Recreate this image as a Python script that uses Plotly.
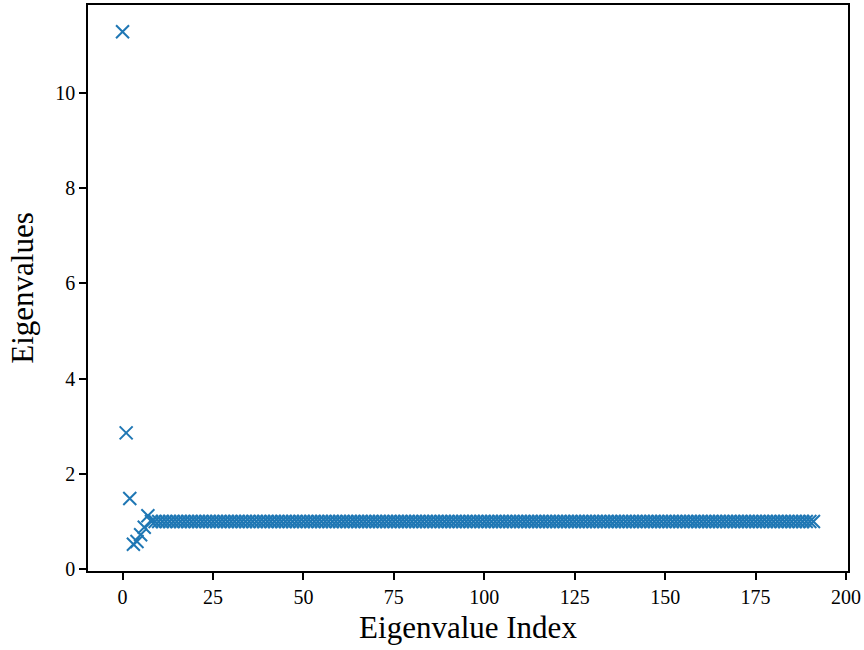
import plotly.graph_objects as go

# Leading eigenvalues
leading_values = [11.28, 2.86, 1.48, 0.52, 0.58, 0.72, 0.88, 1.12]
# Remaining eigenvalues (indices 8..191), all about 1.0
tail_values = [
    1.0, 1.0, 1.0, 1.0, 1.0, 1.0, 1.0, 1.0, 1.0, 1.0, 1.0, 1.0, 1.0, 1.0, 1.0, 1.0,
    1.0, 1.0, 1.0, 1.0, 1.0, 1.0, 1.0, 1.0, 1.0, 1.0, 1.0, 1.0, 1.0, 1.0, 1.0, 1.0,
    1.0, 1.0, 1.0, 1.0, 1.0, 1.0, 1.0, 1.0, 1.0, 1.0, 1.0, 1.0, 1.0, 1.0, 1.0, 1.0,
    1.0, 1.0, 1.0, 1.0, 1.0, 1.0, 1.0, 1.0, 1.0, 1.0, 1.0, 1.0, 1.0, 1.0, 1.0, 1.0,
    1.0, 1.0, 1.0, 1.0, 1.0, 1.0, 1.0, 1.0, 1.0, 1.0, 1.0, 1.0, 1.0, 1.0, 1.0, 1.0,
    1.0, 1.0, 1.0, 1.0, 1.0, 1.0, 1.0, 1.0, 1.0, 1.0, 1.0, 1.0, 1.0, 1.0, 1.0, 1.0,
    1.0, 1.0, 1.0, 1.0, 1.0, 1.0, 1.0, 1.0, 1.0, 1.0, 1.0, 1.0, 1.0, 1.0, 1.0, 1.0,
    1.0, 1.0, 1.0, 1.0, 1.0, 1.0, 1.0, 1.0, 1.0, 1.0, 1.0, 1.0, 1.0, 1.0, 1.0, 1.0,
    1.0, 1.0, 1.0, 1.0, 1.0, 1.0, 1.0, 1.0, 1.0, 1.0, 1.0, 1.0, 1.0, 1.0, 1.0, 1.0,
    1.0, 1.0, 1.0, 1.0, 1.0, 1.0, 1.0, 1.0, 1.0, 1.0, 1.0, 1.0, 1.0, 1.0, 1.0, 1.0,
    1.0, 1.0, 1.0, 1.0, 1.0, 1.0, 1.0, 1.0, 1.0, 1.0, 1.0, 1.0, 1.0, 1.0, 1.0, 1.0,
    1.0, 1.0, 1.0, 1.0, 1.0, 1.0, 1.0, 1.0,
]
eigenvalues = leading_values + tail_values
indices = list(range(len(eigenvalues)))

x_ticks = [0, 25, 50, 75, 100, 125, 150, 175, 200]
y_ticks = [0, 2, 4, 6, 8, 10]

FONT = "Liberation Serif"

fig = go.Figure()
fig.add_trace(go.Scatter(
    x=indices, y=eigenvalues, mode="markers",
    marker=dict(symbol="x-thin", size=13, color="#1f77b4",
                line=dict(color="#1f77b4", width=2)),
    showlegend=False,
))

axis_common = dict(
    showline=True, mirror=True, linecolor="black", linewidth=1.5,
    ticks="outside", ticklen=7, tickwidth=1.5, tickcolor="black",
    showgrid=False, zeroline=False,
    tickfont=dict(family=FONT, size=20, color="black"),
)

fig.update_layout(
    width=864, height=650,
    margin=dict(l=88, r=15, t=3, b=79),
    paper_bgcolor="white", plot_bgcolor="white",
    font=dict(family=FONT, color="black"),
    xaxis=dict(range=[-9.55, 200.55], tickvals=x_ticks,
               title=dict(text="Eigenvalue Index", font=dict(family=FONT, size=31), standoff=10),
               **axis_common),
    yaxis=dict(range=[-0.04, 11.84], tickvals=y_ticks,
               title=dict(text="Eigenvalues", font=dict(family=FONT, size=31), standoff=12),
               **axis_common),
)

fig.write_html("out.html")
